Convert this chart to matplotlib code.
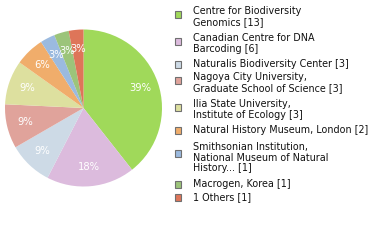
import matplotlib.pyplot as plt
from matplotlib.patches import Rectangle

labels = [
    "Centre for Biodiversity\nGenomics [13]",
    "Canadian Centre for DNA\nBarcoding [6]",
    "Naturalis Biodiversity Center [3]",
    "Nagoya City University,\nGraduate School of Science [3]",
    "Ilia State University,\nInstitute of Ecology [3]",
    "Natural History Museum, London [2]",
    "Smithsonian Institution,\nNational Museum of Natural\nHistory... [1]",
    "Macrogen, Korea [1]",
    "1 Others [1]",
]
counts = [13, 6, 3, 3, 3, 2, 1, 1, 1]
colors = ["#a0d95a", "#dcbbdd", "#cddae6", "#e0a39b", "#dde09f",
          "#f0ad6b", "#9bbadf", "#9cc47a", "#de7559"]

# legend layout (pixel rows of first text line)
legend_y = [11, 38, 64, 77, 104, 130, 147, 184, 197]

W, H = 380, 240
fig = plt.figure(figsize=(W / 100, H / 100), dpi=100)

ax = fig.add_axes([5 / W, 53.5 / H, 157 / W, 157 / H])
ax.pie(counts, colors=colors, startangle=90, counterclock=False,
       autopct=lambda p: f"{p:.0f}%", pctdistance=0.76,
       textprops=dict(color="white", fontsize=7.2, family="DejaVu Sans"),
       wedgeprops=dict(linewidth=0))
ax.set_xlim(-1, 1)
ax.set_ylim(-1, 1)
ax.set_aspect("equal")

lax = fig.add_axes([0, 0, 1, 1])
lax.set_xlim(0, W)
lax.set_ylim(H, 0)
lax.axis("off")
line_h = 10.7
for lab, c, y in zip(labels, colors, legend_y):
    n = lab.count("\n") + 1
    sq = y + (n - 1) * 3.2
    lax.add_patch(Rectangle((174.5, sq - 3), 6.5, 6.5, facecolor=c,
                            edgecolor="#707070", linewidth=0.8))
    for i, line in enumerate(lab.split("\n")):
        lax.text(193, y + i * line_h, line, fontsize=6.9, va="center",
                 ha="left", color="#111111", family="DejaVu Sans")

fig.savefig("out.png", dpi=100)
